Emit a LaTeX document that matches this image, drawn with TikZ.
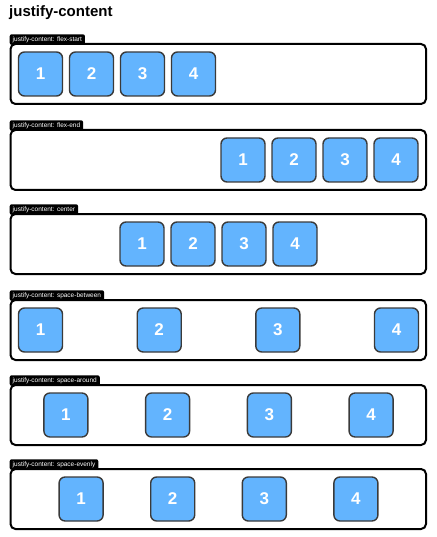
\documentclass[tikz,border=0pt]{standalone}
\usepackage{fontspec}
\setmainfont{Liberation Sans}
\definecolor{itemblue}{HTML}{63B4FE}
\definecolor{itemedge}{HTML}{3A3A3A}
\begin{document}
\begin{tikzpicture}[x=1pt, y=-1pt,
    row/.style={draw=black, line width=2pt, rounded corners=5pt},
    tab/.style={fill=black, text=white, rounded corners=2pt, anchor=south west, inner xsep=3pt, inner ysep=0pt, minimum height=10.5pt, font=\fontsize{6.5}{7}\selectfont},
    box/.style={draw=itemedge, fill=itemblue, line width=1.4pt, rounded corners=6pt, minimum size=44pt, inner sep=0pt, text=white, font=\fontsize{17}{20}\bfseries\selectfont}]
      \useasboundingbox (0, 0) rectangle (436, 537);
      \node[anchor=base west, inner sep=0pt, font=\fontsize{15}{18}\bfseries\selectfont] (title) at (9, 17) {justify-content};

      % flex-start
      \node[tab] (starttab) at (9.5, 45) {justify-content: flex-start};
      \draw[row] (10.5, 44) rectangle (426, 104);
      \node[box] (start1) at (40.5, 74) {1};
      \node[box] (start2) at (91.5, 74) {2};
      \node[box] (start3) at (142.5, 74) {3};
      \node[box] (start4) at (193.5, 74) {4};

      % flex-end
      \node[tab] (endtab) at (9.5, 131) {justify-content: flex-end};
      \draw[row] (10.5, 130) rectangle (426, 190);
      \node[box] (end1) at (243, 160) {1};
      \node[box] (end2) at (294, 160) {2};
      \node[box] (end3) at (345, 160) {3};
      \node[box] (end4) at (396, 160) {4};

      % center
      \node[tab] (centertab) at (9.5, 215) {justify-content: center};
      \draw[row] (10.5, 214) rectangle (426, 274);
      \node[box] (center1) at (142, 244) {1};
      \node[box] (center2) at (193, 244) {2};
      \node[box] (center3) at (244, 244) {3};
      \node[box] (center4) at (295, 244) {4};

      % space-between
      \node[tab] (betweentab) at (9.5, 301) {justify-content: space-between};
      \draw[row] (10.5, 300) rectangle (426, 360);
      \node[box] (between1) at (40.5, 330) {1};
      \node[box] (between2) at (159.2, 330) {2};
      \node[box] (between3) at (277.8, 330) {3};
      \node[box] (between4) at (396.5, 330) {4};

      % space-around
      \node[tab] (aroundtab) at (9.5, 386) {justify-content: space-around};
      \draw[row] (10.5, 385) rectangle (426, 445);
      \node[box] (around1) at (65.9, 415) {1};
      \node[box] (around2) at (167.6, 415) {2};
      \node[box] (around3) at (269.4, 415) {3};
      \node[box] (around4) at (371.1, 415) {4};

      % space-evenly
      \node[tab] (evenlytab) at (9.5, 470) {justify-content: space-evenly};
      \draw[row] (10.5, 469) rectangle (426, 529);
      \node[box] (evenly1) at (81.1, 499) {1};
      \node[box] (evenly2) at (172.7, 499) {2};
      \node[box] (evenly3) at (264.3, 499) {3};
      \node[box] (evenly4) at (355.9, 499) {4};
    \end{tikzpicture}
\end{document}
